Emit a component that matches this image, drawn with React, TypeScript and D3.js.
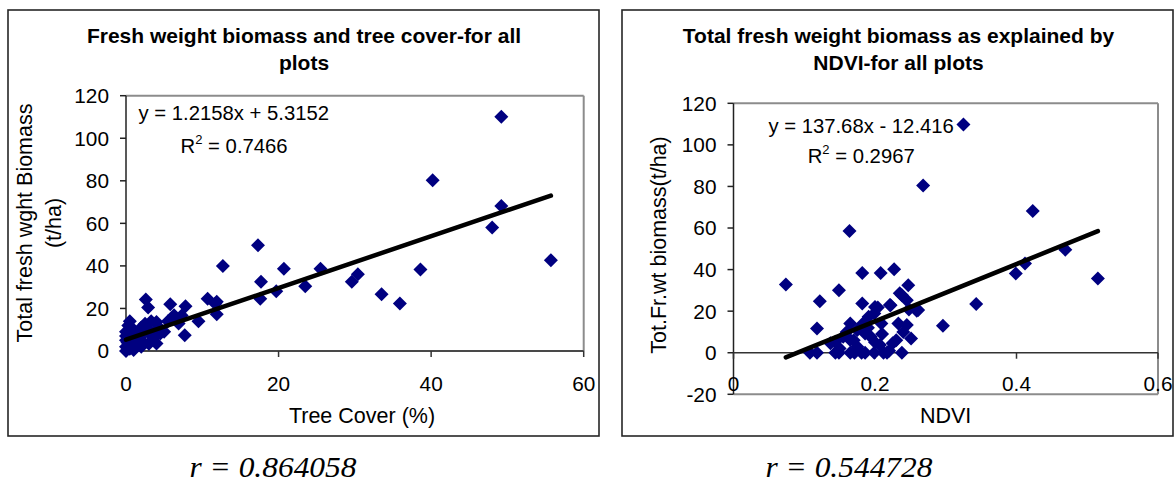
import React from "react";
import * as d3 from "d3";

// ---------- data ----------
const treeCover = [
  49.2, 40.2, 49.2, 48.0, 55.7, 38.6, 35.9, 33.5, 30.4, 29.6, 25.5, 23.5, 20.7, 19.7, 17.7, 17.6, 17.3,
  12.7, 11.9, 11.9, 10.7, 9.5, 7.8, 7.7, 5.8, 6.3, 6.9, 2.6, 2.9, 4.0, 4.0, 4.5, 7.3, 11.7,
  0, 0, 0, 0, 0, 0.3, 0.5, 0.2, 0.8, 1.0, 1.2, 1.5, 1.8, 2.0, 2.3, 2.5, 2.8, 3.0, 3.1, 3.3, 3.6, 4.2,
  4.5, 0.5, 1.0, 2.0, 5.0, 5.5,
];
const biomassTC = [
  110.1, 80.3, 68.2, 58.0, 42.7, 38.3, 22.3, 26.7, 36.1, 32.5, 38.7, 30.4, 38.7, 28.1, 32.5, 24.6, 49.7,
  40.0, 23.1, 17.3, 24.6, 14.0, 21.0, 7.4, 22.0, 16.8, 12.9, 24.2, 20.4, 3.5, 13.6, 8.2, 16.7, 22.2,
  0, 2, 5, 7, 9, 12, 14, 4, 6, 10, 3, 8, 6.5, 11, 4, 12.8, 9, 3.4, 8.9, 14, 6, 11,
  10.5, 1, 0.5, 2, 9, 14,
];
const ndvi = [
  0.325, 0.268, 0.423, 0.164, 0.469, 0.412, 0.399, 0.515, 0.343, 0.296, 0.074, 0.122, 0.118, 0.149,
  0.182, 0.208, 0.227, 0.182, 0.222, 0.247, 0.238, 0.245, 0.261, 0.248, 0.251, 0.233, 0.245, 0.24,
  0.204, 0.199, 0.209, 0.191, 0.183, 0.165, 0.175, 0.186, 0.194, 0.165, 0.155, 0.144, 0.137, 0.225,
  0.207, 0.175, 0.108, 0.118, 0.144, 0.149, 0.165, 0.171, 0.181, 0.186, 0.199, 0.212, 0.217, 0.238,
  0.235, 0.259, 0.221, 0.2, 0.16, 0.17, 0.19, 0.2, 0.21, 0.15, 0.22, 0.23,
];
const biomassND = [
  109.8, 80.5, 68.2, 58.6, 49.6, 42.9, 38.1, 35.7, 23.4, 13.0, 32.8, 24.8, 11.7, 30.1,
  38.4, 38.4, 40.2, 23.7, 22.9, 32.5, 27.7, 25.3, 20.5, 20.8, 6.9, 14.1, 13.3, 10.0,
  21.8, 18.9, 14.1, 17.3, 14.1, 14.1, 10.9, 9.3, 7.7, 6.1, 7.7, 5.3, 4.5, 4.5,
  3.7, 2.9, 0, 0, 0, 0, 0, 0, 0, 0, 0, 0, 0, 0,
  28.6, 20.2, 23, 22, 10, 6, 12, 5, 9, 2, 1, 6,
];

const tcTicksX = [0, 20, 40, 60];
const tcTicksY = [0, 20, 40, 60, 80, 100, 120];
const ndTicksX = [0, 0.2, 0.4, 0.6];
const ndTicksY = [-20, 0, 20, 40, 60, 80, 100, 120];

const tcFit = { slope: 1.2158, intercept: 5.3152, r2: "0.7466", eq: "y = 1.2158x + 5.3152", r: "r = 0.864058" };
const ndFit = { slope: 137.68, intercept: -12.416, r2: "0.2967", eq: "y = 137.68x - 12.416", r: "r = 0.544728" };

const NAVY = "#000080";
const FONT = "Arial, 'Liberation Sans', Helvetica, sans-serif";

const diamond = d3.symbol().type(d3.symbolSquare).size(98)();

type PanelProps = {
  frame: number[];
  xr: number[];
  yr: number[];
  xd: number[];
  yd: number[];
  xTicks: number[];
  yTicks: number[];
  xs: number[];
  ys: number[];
  fit: typeof tcFit;
  title: string[];
  titleX: number;
  xTitle: string;
  xTitleX: number;
  yTitle: string[];
  yTitleX: number[];
  yTitleY: number;
  eqPos: number[];
  rPos: number[];
  xFmt: (v: number) => string;
};

function Panel(p: PanelProps) {
  const x = d3.scaleLinear().domain(p.xd).range(p.xr);
  const y = d3.scaleLinear().domain(p.yd).range(p.yr);
  const [fx, fy, fw, fh] = p.frame;
  const xMin = d3.min(p.xs) as number;
  const xMax = d3.max(p.xs) as number;
  const line = d3
    .line<number>()
    .x((v) => x(v))
    .y((v) => y(p.fit.slope * v + p.fit.intercept));
  const axisY = y(Math.max(0, p.yd[0]));
  const left = p.xr[0], right = p.xr[1], top = p.yr[1], bottom = p.yr[0];
  return (
    <g>
      <rect x={fx} y={fy} width={fw} height={fh} fill="white" stroke="#262626" strokeWidth={1.6} />
      {p.title.map((t, i) => (
        <text key={i} x={p.titleX} y={43 + i * 27} textAnchor="middle" fontFamily={FONT} fontWeight="bold" fontSize={21} fill="#000">
          {t}
        </text>
      ))}
      {/* plot area border */}
      <line x1={left} x2={right} y1={top} y2={top} stroke="#8c8c8c" strokeWidth={2} />
      <line x1={right} x2={right} y1={top} y2={bottom} stroke="#8c8c8c" strokeWidth={2} />
      <line x1={left} x2={right} y1={bottom} y2={bottom} stroke="#8c8c8c" strokeWidth={2} />
      {/* y axis */}
      <line x1={left} x2={left} y1={top} y2={bottom} stroke="#222" strokeWidth={1.5} />
      {p.yTicks.map((t) => (
        <g key={t}>
          <line x1={left - 6} x2={left} y1={y(t)} y2={y(t)} stroke="#222" strokeWidth={1.5} />
          <text x={left - 17} y={y(t) + 7.4} textAnchor="end" fontFamily={FONT} fontSize={20.8} fill="#000">
            {t}
          </text>
        </g>
      ))}
      {/* x axis */}
      <line x1={left} x2={right} y1={axisY} y2={axisY} stroke="#333" strokeWidth={1.5} />
      {p.xTicks.map((t) => (
        <g key={t}>
          <line x1={x(t)} x2={x(t)} y1={axisY} y2={axisY + 6} stroke="#333" strokeWidth={1.5} />
          <text x={x(t)} y={391} textAnchor="middle" fontFamily={FONT} fontSize={20.8} fill="#000">
            {p.xFmt(t)}
          </text>
        </g>
      ))}
      {/* points */}
      {p.xs.map((v, i) => (
        <path key={i} d={diamond} transform={`translate(${x(v)},${y(p.ys[i])}) rotate(45)`} fill={NAVY} />
      ))}
      {/* trendline */}
      <path d={line([xMin, xMax]) || ""} stroke="#000" strokeWidth={4.5} fill="none" strokeLinecap="round" />
      {/* equation */}
      <text x={p.eqPos[0]} y={p.eqPos[1]} fontFamily={FONT} fontSize={20.3} fill="#000">
        {p.fit.eq}
      </text>
      <text x={p.eqPos[2]} y={p.eqPos[3]} fontFamily={FONT} fontSize={20.3} fill="#000">
        R<tspan dy={-9} fontSize={13}>2</tspan>
        <tspan dy={9}> = {p.fit.r2}</tspan>
      </text>
      {/* axis titles */}
      <text x={p.xTitleX} y={422.5} textAnchor="middle" fontFamily={FONT} fontSize={21.5} fill="#000">
        {p.xTitle}
      </text>
      {p.yTitle.map((t, i) => (
        <text
          key={i}
          transform={`translate(${p.yTitleX[i]},${p.yTitleY}) rotate(-90)`}
          textAnchor="middle"
          fontFamily={FONT}
          fontSize={21.5}
          fill="#000"
        >
          {t}
        </text>
      ))}
      <text
        x={p.rPos[0]}
        y={p.rPos[1]}
        textAnchor="middle"
        fontFamily="'Liberation Serif', 'Times New Roman', serif"
        fontStyle="italic"
        fontSize={29.5}
        textLength={167}
        lengthAdjust="spacingAndGlyphs"
        fill="#000"
      >
        {p.fit.r}
      </text>
    </g>
  );
}

export default function App() {
  return (
    <svg
      width={1176}
      height={483}
      style={{ position: "absolute", left: 0, top: 0, background: "white" }}
    >
      <rect x={0} y={0} width={1176} height={483} fill="white" />
      <Panel
        frame={[8, 10, 591, 426]}
        xr={[126, 583.7]}
        yr={[351, 95.7]}
        xd={[0, 60]}
        yd={[0, 120]}
        xTicks={tcTicksX}
        yTicks={tcTicksY}
        xs={treeCover}
        ys={biomassTC}
        fit={tcFit}
        title={["Fresh weight biomass and tree cover-for all", "plots"]}
        titleX={304}
        xTitle="Tree Cover (%)"
        xTitleX={362}
        yTitle={["Total fresh wght Biomass", "(t/ha)"]}
        yTitleX={[32, 61]}
        yTitleY={223}
        eqPos={[138.5, 120, 180.6, 153]}
        rPos={[273, 477.3]}
        xFmt={(v) => String(v)}
      />
      <Panel
        frame={[622, 10, 551, 426]}
        xr={[733.5, 1158]}
        yr={[394.3, 103.3]}
        xd={[0, 0.6]}
        yd={[-20, 120]}
        xTicks={ndTicksX}
        yTicks={ndTicksY}
        xs={ndvi}
        ys={biomassND}
        fit={ndFit}
        title={["Total fresh weight biomass as explained by", "NDVI-for all plots"]}
        titleX={898.5}
        xTitle="NDVI"
        xTitleX={945.6}
        yTitle={["Tot.Fr.wt biomass(t/ha)"]}
        yTitleX={[666]}
        yTitleY={245}
        eqPos={[768.4, 133, 807.7, 163.3]}
        rPos={[849, 477.3]}
        xFmt={(v) => String(v)}
      />
    </svg>
  );
}
